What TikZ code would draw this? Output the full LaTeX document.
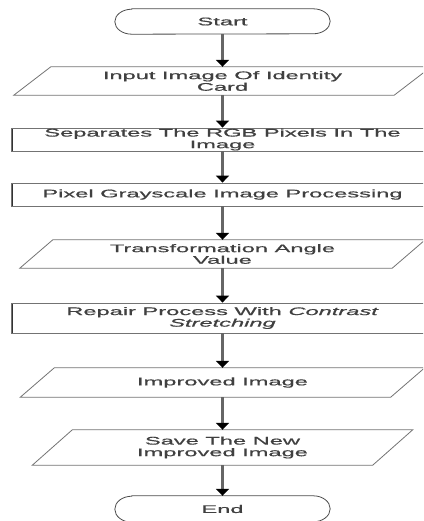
\documentclass[tikz,border=0pt]{standalone}
\usepackage{fontspec}
\usepackage{tikz}
\usetikzlibrary{arrows.meta}
\newfontfamily\flowfont[FakeStretch=2.15, FakeBold=0.8]{Liberation Sans}

\begin{document}
\begin{tikzpicture}[x=1pt, y=1pt,
  every node/.style={inner sep=0pt, align=center, text=black!75, font=\flowfont\fontsize{11}{11.6}\selectfont},
  terminal/.style={minimum width=215pt},
  termline/.style={draw=black!70, line width=0.8pt},
  procbox/.style={draw=black!55, line width=0.8pt, minimum width=423pt,
    path picture={\draw[black!80, line width=3pt] (path picture bounding box.north west) -- (path picture bounding box.south west);}},
  iobox/.style={draw=black!55, line width=0.8pt},
  flow/.style={draw=black!60, line width=2.6pt, -{Triangle[width=13pt, length=7pt, black]}}]
        \useasboundingbox (0,0) rectangle (423,-521);
        \clip (0,0) rectangle (423,-521);

        \node[terminal, minimum height=25pt] (start) at (222.5,-21.5) {Start};
        \node[minimum width=380pt, minimum height=28pt] (input) at (222.5,-81) {Input Image Of Identity\\Card};
        \node[procbox, minimum height=23pt] (separate) at (222.5,-139.5) {Separates The RGB Pixels In The\\Image};
        \node[procbox, minimum height=23pt] (grayscale) at (222.5,-194.5) {Pixel Grayscale Image Processing};
        \node[minimum width=372pt, minimum height=28pt] (angle) at (222.5,-254) {Transformation Angle\\Value};
        \node[procbox, minimum height=30pt] (repair) at (222.5,-318) {Repair Process With \textit{Contrast}\\\textit{Stretching}};
        \node[minimum width=370pt, minimum height=29pt] (improved) at (222.5,-382.5) {Improved Image};
        \node[minimum width=340pt, minimum height=35pt] (save) at (222.5,-447.5) {Save The New\\Improved Image};
        \node[terminal, minimum height=26pt] (end) at (222.5,-509) {End};

        % terminals
        \draw[termline] ([xshift=17pt]start.north west) -- ([xshift=-17pt]start.north east)
            arc[start angle=90, end angle=-90, x radius=17pt, y radius=12.5pt]
            -- ([xshift=17pt]start.south west)
            arc[start angle=270, end angle=90, x radius=17pt, y radius=12.5pt] -- cycle;
        \draw[termline] ([xshift=17pt]end.north west) -- ([xshift=-17pt]end.north east)
            arc[start angle=90, end angle=-90, x radius=17pt, y radius=13pt]
            -- ([xshift=17pt]end.south west)
            arc[start angle=270, end angle=90, x radius=17pt, y radius=13pt] -- cycle;

        % input / output
        \draw[iobox] ([xshift=-18.5pt]input.south west) -- ([xshift=18.5pt]input.north west)
            -- ([xshift=18.5pt]input.north east) -- ([xshift=-18.5pt]input.south east) -- cycle;
        \draw[iobox] ([xshift=-16.5pt]angle.south west) -- ([xshift=16.5pt]angle.north west)
            -- ([xshift=16.5pt]angle.north east) -- ([xshift=-16.5pt]angle.south east) -- cycle;
        \draw[iobox] ([xshift=-17pt]improved.south west) -- ([xshift=17pt]improved.north west)
            -- ([xshift=17pt]improved.north east) -- ([xshift=-17pt]improved.south east) -- cycle;
        \draw[iobox] ([xshift=-20pt]save.south west) -- ([xshift=20pt]save.north west)
            -- ([xshift=20pt]save.north east) -- ([xshift=-20pt]save.south east) -- cycle;

        \draw[flow] (start) -- (input);
        \draw[flow] (input) -- (separate);
        \draw[flow] (separate) -- (grayscale);
        \draw[flow] (grayscale) -- (angle);
        \draw[flow] (angle) -- (repair);
        \draw[flow] (repair) -- (improved);
        \draw[flow] (improved) -- (save);
        \draw[flow] (save) -- (end);
    \end{tikzpicture}
\end{document}
